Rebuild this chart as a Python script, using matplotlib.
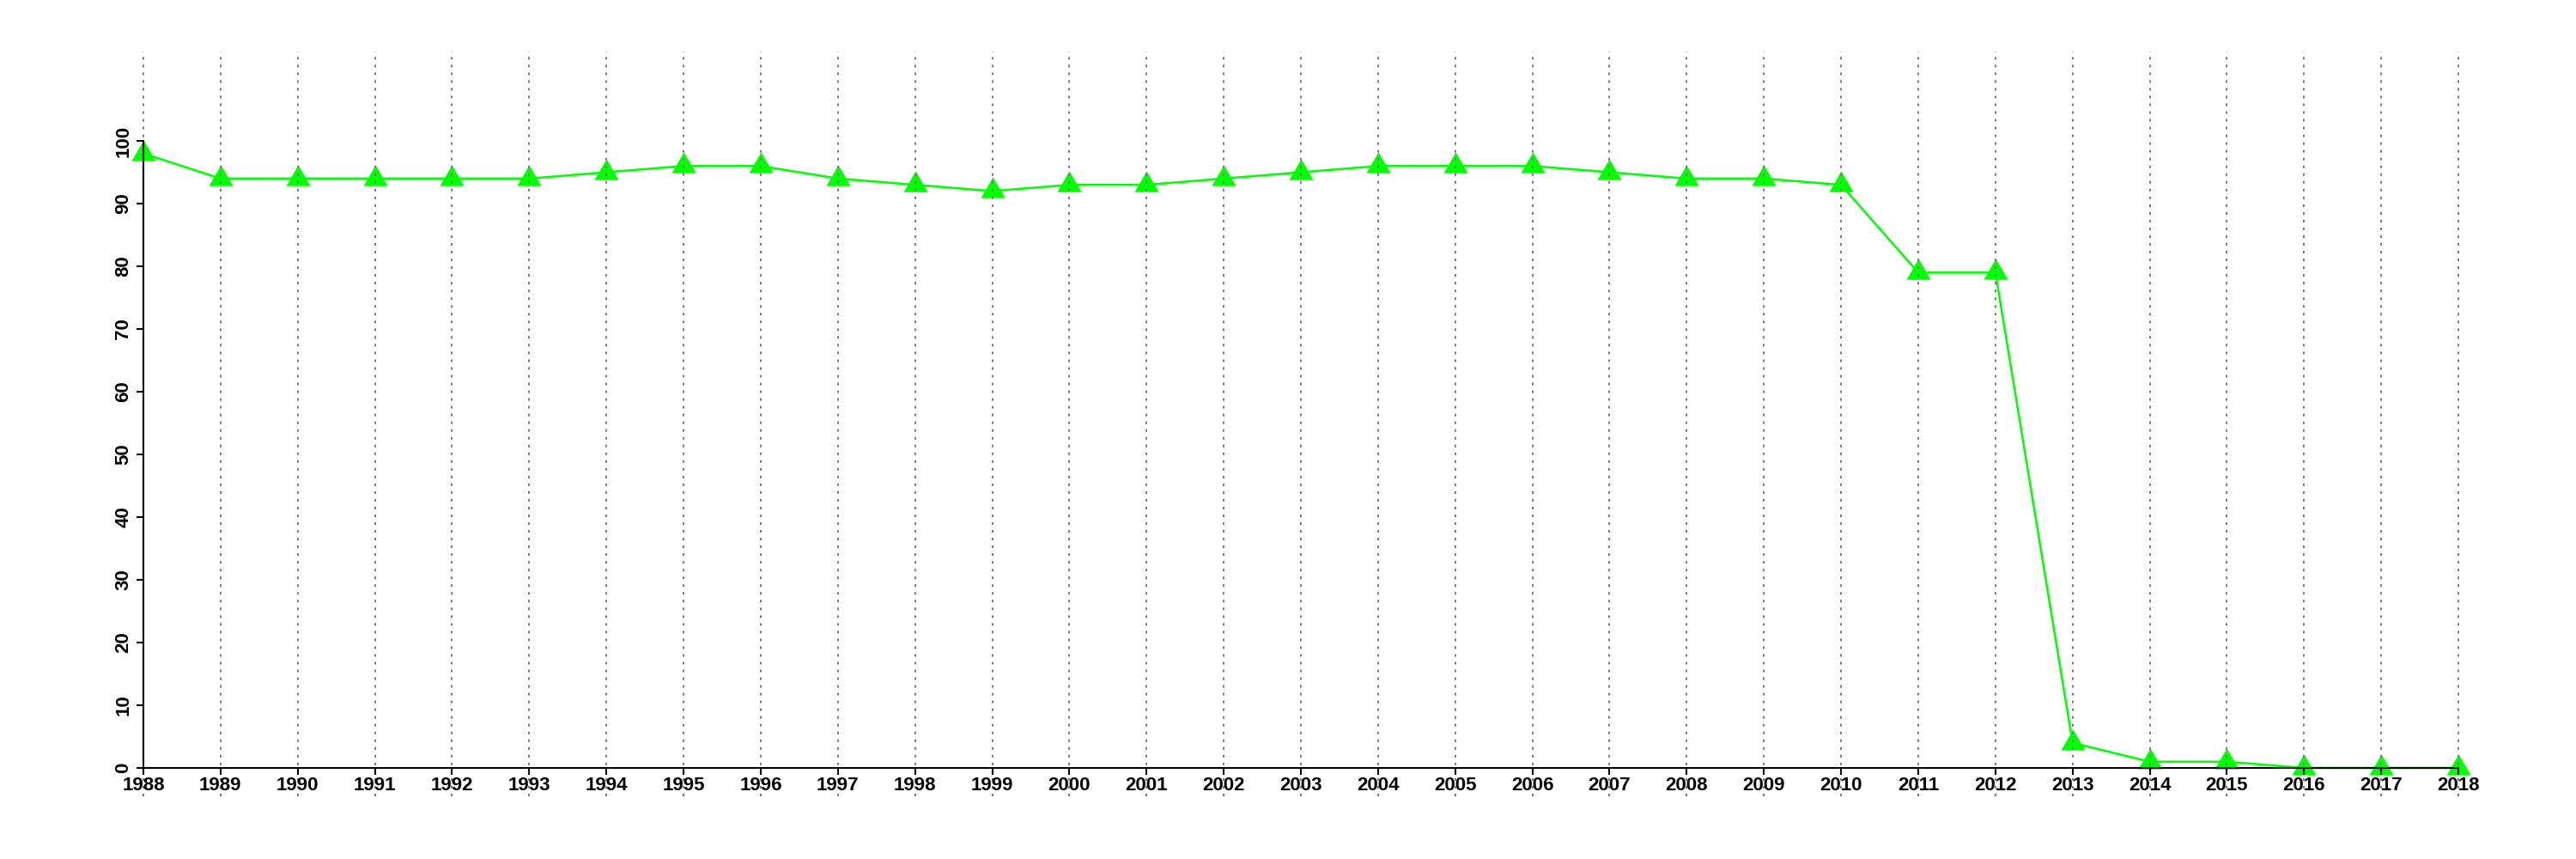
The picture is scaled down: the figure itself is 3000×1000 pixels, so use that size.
import matplotlib
matplotlib.use("Agg")
import matplotlib.pyplot as plt
from matplotlib.path import Path

years = list(range(1988, 2019))
values = [98, 94, 94, 94, 94, 94, 95, 96, 96, 94, 93, 92, 93, 93, 94, 95,
          96, 96, 96, 95, 94, 94, 93, 79, 79, 4, 1, 1, 0, 0, 0]
yticks = list(range(0, 101, 10))

plt.rcParams['lines.scale_dashes'] = False
plt.rcParams['font.family'] = ['Liberation Sans', 'DejaVu Sans']

fig = plt.figure(figsize=(30, 10), dpi=100)
ax = fig.add_axes([0.0197, 0.073, 0.9706, 0.867])
ax.set_xlim(1986.8, 2019.2)
ax.set_ylim(-4.52, 114.25)

# R-style equilateral triangle (pch 17)
tri = Path([(0, 1.555), (1.347, -0.778), (-1.347, -0.778), (0, 1.555)],
           [Path.MOVETO, Path.LINETO, Path.LINETO, Path.CLOSEPOLY])

ax.plot(years, values, color='#00ff00', lw=1.8, marker=tri, ms=23.3,
        markeredgewidth=0, markerfacecolor='#00ff00', zorder=3, clip_on=False)

ax.vlines(years, -4.52, 114.25, colors='#7a7a7a', linewidth=1.4,
          linestyles=[(0, (2.2, 4.3))], zorder=4, clip_on=False)

for s in ['top', 'right']:
    ax.spines[s].set_visible(False)
ax.spines['left'].set_position(('data', 1988))
ax.spines['left'].set_bounds(0, 100)
ax.spines['bottom'].set_position(('data', 0))
ax.spines['bottom'].set_bounds(1988, 2018)
for s in ['left', 'bottom']:
    ax.spines[s].set_linewidth(1.5)
    ax.spines[s].set_color('black')
    ax.spines[s].set_zorder(5)
ax.xaxis.set_zorder(5)
ax.yaxis.set_zorder(5)

ax.set_xticks(years)
ax.set_xticklabels([str(y) for y in years], fontsize=16, fontweight='bold')
ax.set_yticks(yticks)
ax.set_yticklabels([str(v) for v in yticks], fontsize=16, fontweight='bold',
                   rotation=90, va='center', ha='right')
ax.tick_params(axis='x', length=6, width=1.5, pad=1, direction='out')
ax.tick_params(axis='y', length=6, width=1.5, pad=3, direction='out')
ax.patch.set_visible(False)

fig.savefig('out.png', dpi=100)
